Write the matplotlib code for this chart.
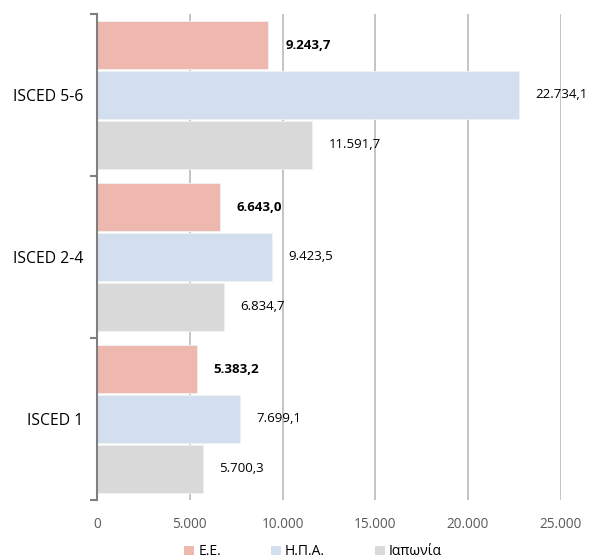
import matplotlib
matplotlib.use("Agg")
import matplotlib.pyplot as plt
import numpy as np
from matplotlib.patches import Patch

categories = ["ISCED 1", "ISCED 2-4", "ISCED 5-6"]
series_names = ["Ε.Ε.", "Η.Π.Α.", "Ιαπωνία"]
eu = [5383.2, 6643.0, 9243.7]
usa = [7699.1, 9423.5, 22734.1]
japan = [5700.3, 6834.7, 11591.7]
xticks = [0, 5000, 10000, 15000, 20000, 25000]
xtick_labels = ["0", "5.000", "10.000", "15.000", "20.000", "25.000"]

colors = ["#EEB8AE", "#D3DFEE", "#D9D9D9"]

def fmt(v):
    s = f"{v:,.1f}"
    return s.replace(",", "X").replace(".", ",").replace("X", ".")

plt.rcParams['font.family'] = ['Open Sans', 'DejaVu Sans']
fig = plt.figure(figsize=(5.93, 5.58), dpi=100)
ax = fig.add_axes([0.1636, 0.104, 0.782, 0.871])

y = np.arange(len(categories))
h = 0.296
offsets = [h + 0.012, 0, -(h + 0.012)]
all_series = [eu, usa, japan]
for i, (vals, off) in enumerate(zip(all_series, offsets)):
    ax.barh(y + off, vals, height=h, color=colors[i], edgecolor="#F2F2F2",
            linewidth=0.6, zorder=3, label=series_names[i])
    for yi, v in zip(y, vals):
        ax.annotate(fmt(v), (v, yi + off), xytext=(12, 0), textcoords="offset points",
                    va="center", ha="left", fontsize=9.5, color="black",
                    fontweight="bold" if i == 0 else "normal")

ax.set_xlim(0, 25000)
ax.set_ylim(-0.5, 2.5)
ax.set_xticks(xticks)
ax.set_xticklabels(xtick_labels, fontsize=9.8, color="#595959")
ax.tick_params(axis="x", length=0, pad=12)
ax.set_yticks(y)
ax.set_yticklabels(categories, fontsize=11.3, color="black")
ax.set_yticks([-0.5, 0.5, 1.5, 2.5], minor=True)
ax.tick_params(axis="y", which="major", length=0, pad=10)
ax.tick_params(axis="y", which="minor", length=5, width=1.5, color="#7F7F7F")
ax.grid(axis="x", color="#BFBFBF", linewidth=1.3, zorder=0)
for s in ["top", "right", "bottom"]:
    ax.spines[s].set_visible(False)
ax.spines["left"].set_color("#7F7F7F")
ax.spines["left"].set_linewidth(1.5)
ax.spines["left"].set_zorder(4)

handles = [Patch(facecolor=c, edgecolor="none") for c in colors]
fig.legend(handles, series_names, loc="lower center", ncol=3, frameon=False,
           bbox_to_anchor=(0.528, -0.025), fontsize=10, handlelength=0.7,
           handleheight=0.7, handletextpad=0.3, columnspacing=3.6)

fig.savefig("out.png", dpi=100)
